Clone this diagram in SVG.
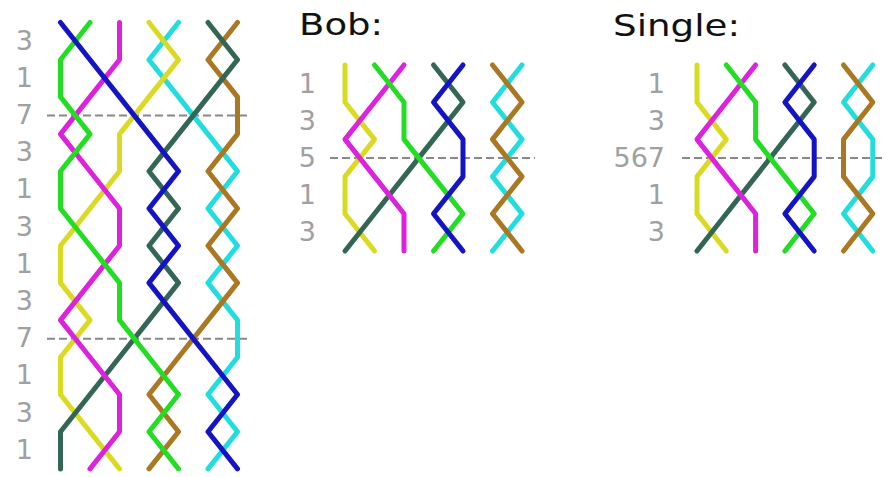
<svg xmlns="http://www.w3.org/2000/svg" width="885" height="477" viewBox="0 0 885 477">
<style>
.ln{fill:none;stroke-width:5;stroke-linecap:round;stroke-linejoin:round}
.b{stroke:#1414c4}.g{stroke:#22dd22}.m{stroke:#dd22dd}.y{stroke:#dada22}.c{stroke:#22dddd}.d{stroke:#336655}.br{stroke:#aa7722}
.lab{font-family:"DejaVu Sans",sans-serif;font-size:27px;fill:#a0a0a0;text-anchor:end}
.ttl{font-family:"DejaVu Sans",sans-serif;font-size:31px;fill:#111111}
.dash{stroke:#888888;stroke-width:2;stroke-dasharray:8,4;fill:none}
</style>
<rect width="885" height="477" fill="#ffffff"/>
<g id="plain-course">
<g id="plain-labels">
<text class="lab" x="33" y="50">3</text>
<text class="lab" x="33" y="87">1</text>
<text class="lab" x="33" y="124">7</text>
<text class="lab" x="33" y="161">3</text>
<text class="lab" x="33" y="198">1</text>
<text class="lab" x="33" y="236">3</text>
<text class="lab" x="33" y="273">1</text>
<text class="lab" x="33" y="310">3</text>
<text class="lab" x="33" y="347">7</text>
<text class="lab" x="33" y="384">1</text>
<text class="lab" x="33" y="422">3</text>
<text class="lab" x="33" y="459">1</text>
</g>
<g id="plain-lines">
<line class="dash" x1="47" y1="115.5" x2="250" y2="115.5"/>
<line class="dash" x1="47" y1="338.7" x2="250" y2="338.7"/>
<polyline class="ln c" points="178.5,22.5 149,59.7 178.5,96.9 208,134.1 237.5,171.3 208,208.5 237.5,245.7 208,282.9 237.5,320.1 237.5,357.3 208,394.5 237.5,431.7 208,468.9"/>
<polyline class="ln br" points="237.5,22.5 208,59.7 237.5,96.9 237.5,134.1 208,171.3 237.5,208.5 208,245.7 237.5,282.9 208,320.1 178.5,357.3 149,394.5 178.5,431.7 149,468.9"/>
<polyline class="ln y" points="149,22.5 178.5,59.7 149,96.9 119.5,134.1 119.5,171.3 90,208.5 60.5,245.7 60.5,282.9 90,320.1 60.5,357.3 60.5,394.5 90,431.7 119.5,468.9"/>
<polyline class="ln d" points="208,22.5 237.5,59.7 208,96.9 178.5,134.1 149,171.3 178.5,208.5 149,245.7 178.5,282.9 149,320.1 119.5,357.3 90,394.5 60.5,431.7 60.5,468.9"/>
<polyline class="ln m" points="119.5,22.5 119.5,59.7 90,96.9 60.5,134.1 90,171.3 119.5,208.5 119.5,245.7 90,282.9 60.5,320.1 90,357.3 119.5,394.5 119.5,431.7 90,468.9"/>
<polyline class="ln g" points="90,22.5 60.5,59.7 60.5,96.9 90,134.1 60.5,171.3 60.5,208.5 90,245.7 119.5,282.9 119.5,320.1 149,357.3 178.5,394.5 149,431.7 178.5,468.9"/>
<polyline class="ln b" points="60.5,22.5 90,59.7 119.5,96.9 149,134.1 178.5,171.3 149,208.5 178.5,245.7 149,282.9 178.5,320.1 208,357.3 237.5,394.5 208,431.7 237.5,468.9"/>
</g>
</g>
<g id="bob">
<text class="ttl" x="299" y="35" textLength="84" lengthAdjust="spacingAndGlyphs">Bob:</text>
<text class="lab" x="316" y="93">1</text>
<text class="lab" x="316" y="130">3</text>
<text class="lab" x="316" y="167">5</text>
<text class="lab" x="316" y="204">1</text>
<text class="lab" x="316" y="241">3</text>
<g id="bob-lines">
<line class="dash" x1="330" y1="158" x2="535" y2="158"/>
<polyline class="ln c" points="522,65 492.5,102.2 522,139.4 492.5,176.6 522,213.8 492.5,251"/>
<polyline class="ln br" points="492.5,65 522,102.2 492.5,139.4 522,176.6 492.5,213.8 522,251"/>
<polyline class="ln y" points="345,65 345,102.2 374.5,139.4 345,176.6 345,213.8 374.5,251"/>
<polyline class="ln d" points="433.5,65 463,102.2 433.5,139.4 404,176.6 374.5,213.8 345,251"/>
<polyline class="ln m" points="404,65 374.5,102.2 345,139.4 374.5,176.6 404,213.8 404,251"/>
<polyline class="ln g" points="374.5,65 404,102.2 404,139.4 433.5,176.6 463,213.8 433.5,251"/>
<polyline class="ln b" points="463,65 433.5,102.2 463,139.4 463,176.6 433.5,213.8 463,251"/>
</g>
</g>
<g id="single">
<text class="ttl" x="613" y="36" textLength="127" lengthAdjust="spacingAndGlyphs">Single:</text>
<text class="lab" x="665" y="93">1</text>
<text class="lab" x="665" y="130">3</text>
<text class="lab" x="665" y="167">567</text>
<text class="lab" x="665" y="204">1</text>
<text class="lab" x="665" y="241">3</text>
<g id="single-lines">
<line class="dash" x1="682" y1="158" x2="885" y2="158"/>
<polyline class="ln c" points="872.8,65 843.5,102.2 872.8,139.4 872.8,176.6 843.5,213.8 872.8,251"/>
<polyline class="ln br" points="843.5,65 872.8,102.2 843.5,139.4 843.5,176.6 872.8,213.8 843.5,251"/>
<polyline class="ln y" points="697,65 697,102.2 726.3,139.4 697,176.6 697,213.8 726.3,251"/>
<polyline class="ln d" points="784.9,65 814.2,102.2 784.9,139.4 755.6,176.6 726.3,213.8 697,251"/>
<polyline class="ln m" points="755.6,65 726.3,102.2 697,139.4 726.3,176.6 755.6,213.8 755.6,251"/>
<polyline class="ln g" points="726.3,65 755.6,102.2 755.6,139.4 784.9,176.6 814.2,213.8 784.9,251"/>
<polyline class="ln b" points="814.2,65 784.9,102.2 814.2,139.4 814.2,176.6 784.9,213.8 814.2,251"/>
</g>
</g>
</svg>
